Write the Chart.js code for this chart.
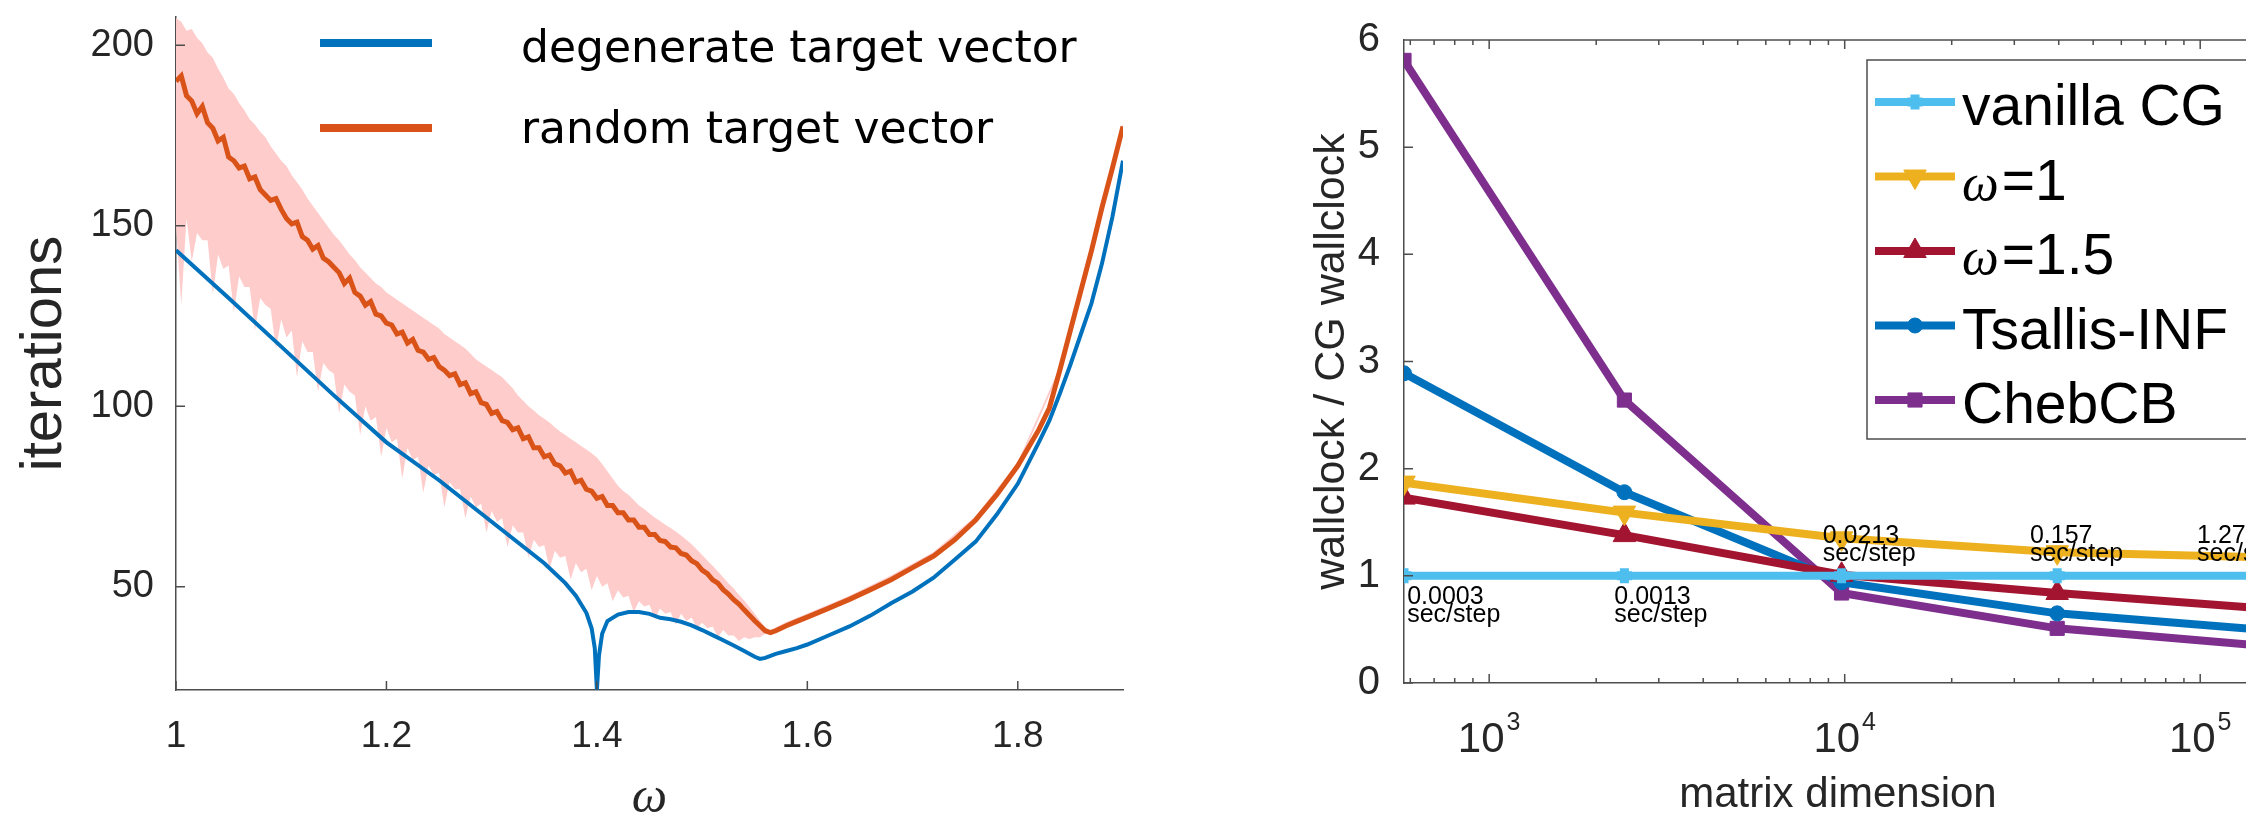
<!DOCTYPE html>
<html>
<head>
<meta charset="utf-8">
<script src="https://cdn.jsdelivr.net/npm/chart.js@4.4.1/dist/chart.umd.min.js"></script>
<style>
  html, body { margin: 0; padding: 0; background: #fff; overflow: hidden; width: 2246px; height: 825px; }
  canvas { position: absolute; top: 0; }
  #sorChart { left: 0; }
  #timeChart { left: 1180px; }
</style>
</head>
<body>
<canvas id="sorChart" width="1160" height="825"></canvas>
<canvas id="timeChart" width="1130" height="825"></canvas>
<script>
// ---------- left panel: iterations vs omega ----------
const sweepOmega = [
  1.000, 1.005, 1.010, 1.015, 1.020, 1.025, 1.030, 1.035, 1.040, 1.045,
  1.050, 1.055, 1.060, 1.065, 1.070, 1.075, 1.080, 1.085, 1.090, 1.095,
  1.100, 1.105, 1.110, 1.115, 1.120, 1.125, 1.130, 1.135, 1.140, 1.145,
  1.150, 1.155, 1.160, 1.165, 1.170, 1.175, 1.180, 1.185, 1.190, 1.195,
  1.200, 1.205, 1.210, 1.215, 1.220, 1.225, 1.230, 1.235, 1.240, 1.245,
  1.250, 1.255, 1.260, 1.265, 1.270, 1.275, 1.280, 1.285, 1.290, 1.295,
  1.300, 1.305, 1.310, 1.315, 1.320, 1.325, 1.330, 1.335, 1.340, 1.345,
  1.350, 1.355, 1.360, 1.365, 1.370, 1.375, 1.380, 1.385, 1.390, 1.395,
  1.400, 1.405, 1.410, 1.415, 1.420, 1.425, 1.430, 1.435, 1.440, 1.445,
  1.450, 1.455, 1.460, 1.465, 1.470, 1.475, 1.480, 1.485, 1.490, 1.495,
  1.500, 1.505, 1.510, 1.515, 1.520, 1.525, 1.530, 1.535, 1.540, 1.545,
  1.550, 1.555, 1.560
];
const bandOmega = sweepOmega.concat([1.565, 1.58, 1.60, 1.64, 1.68, 1.72, 1.76, 1.80, 1.84, 1.88, 1.90]);
const bandHigh = [
  207.5, 206.5, 204, 204.5, 202, 200.5, 198, 196.5, 193.5, 191,
  188, 186.5, 184, 182, 179.5, 178, 176, 174.5, 172, 170,
  168, 166.5, 164, 162, 160, 157.5, 155.5, 153.5, 151.5, 149.5,
  147.5, 146, 144, 142, 140.5, 138.5, 137, 135.5, 134, 133,
  131.5, 130.5, 129.5, 128.5, 127.5, 126.5, 125.5, 124.5, 123.5, 122.5,
  121.5, 120, 119, 118, 117, 116, 114.5, 113, 112, 111,
  110, 109, 108, 106.5, 105, 103, 101.5, 100, 98.8, 97.5,
  96.5, 95.5, 94.2, 93, 92, 91, 90, 89, 88, 87,
  85.8, 84, 82, 80, 78, 76.5, 75.5, 74, 72.5, 71.5,
  70.3, 69.2, 68.2, 67.2, 66.3, 65.3, 64.2, 63, 61.8, 60.3,
  58.8, 57.3, 55.8, 54.2, 52.6, 51, 49.5, 47.8, 46.2, 44.4,
  42.5, 40.6, 38.8,
  38.0, 40.2, 42.6, 47.5, 53.2, 59.6, 69.6, 84.5, 111, 156, 178.2
];
const bandLow = [
  150, 128, 152, 140, 148, 146, 146, 131, 142, 138,
  139, 126, 136, 133, 133, 121, 130, 128, 127, 116,
  124, 119, 121, 108, 118, 115, 115, 104, 112, 110,
  109, 98, 106, 104, 103, 92, 100, 96, 97, 86,
  94, 90, 91, 80, 88.5, 85, 86, 76, 83.5, 81,
  81.5, 72, 79, 77, 77, 69, 75, 72, 73, 65,
  71, 68, 69, 61, 67, 65, 65, 58, 63, 61,
  61.5, 55, 60, 58, 58.5, 52, 56.5, 54, 55, 49,
  53, 50, 51, 46, 49, 47, 47.5, 43, 46, 44.5,
  45, 41, 44, 42.5, 43, 39.5, 42.5, 40.5, 41.5, 38.5,
  40, 38.5, 39, 36, 38, 36.5, 36.5, 35, 36, 35.5,
  36, 36, 37,
  36.8, 38.8, 41.2, 46.2, 51.8, 58.2, 68.2, 83.2, 109.6, 154.6, 177.2
];
const randOmega = sweepOmega.concat([
  1.565, 1.57, 1.58, 1.59, 1.60, 1.62, 1.64, 1.66, 1.68, 1.70, 1.72, 1.74,
  1.76, 1.78, 1.80, 1.82, 1.83, 1.84, 1.85, 1.86, 1.87, 1.88, 1.89, 1.90
]);
const randIter = [
  190, 191.5, 186, 184.5, 181, 183, 178.5, 177, 173.5, 174.5,
  169, 168, 166, 166.5, 163, 163.5, 160, 158.5, 157, 157.5,
  154.5, 152, 150.5, 151, 147, 146, 143.5, 144.5, 141, 140,
  138.5, 137, 134, 135.5, 131.5, 130.5, 128, 129, 125.5, 125,
  123, 122.5, 120, 120.5, 117.5, 118.5, 115.5, 115, 113, 113.5,
  111, 110, 108.5, 109, 106, 106.5, 103.5, 104, 101, 100.5,
  98, 98.5, 96, 95.5, 93.5, 94, 91, 91.5, 88.5, 88.5,
  86, 86.5, 84, 83.5, 81.5, 82, 79, 79.5, 77, 76.5,
  74.5, 75, 72.5, 72.5, 70.5, 70.5, 68.5, 68.5, 66.5, 66.5,
  64.5, 64.5, 62.8, 62.5, 61, 60.8, 59.2, 58.8, 57.2, 56.4,
  54.6, 53.6, 51.9, 51, 49.2, 48, 46.4, 45.2, 43.6, 42.1,
  40.6, 39.2, 37.8,
  37.3, 37.8, 39.2, 40.4, 41.6, 44, 46.5, 49.2, 52, 55.3, 58.5, 63,
  68.5, 75.5, 83.5, 93.5, 99.5, 110, 121, 132, 143, 155, 166, 177.5
];
const degOmega = [
  1.00, 1.05, 1.10, 1.15, 1.20, 1.25, 1.30, 1.35,
  1.37, 1.38, 1.39, 1.395, 1.398, 1.400, 1.402, 1.405, 1.41,
  1.42, 1.43, 1.44, 1.45, 1.46, 1.47, 1.48, 1.49, 1.50, 1.51, 1.52, 1.53, 1.54, 1.55,
  1.555, 1.56, 1.57, 1.58, 1.59, 1.60,
  1.62, 1.64, 1.66, 1.68, 1.70, 1.72, 1.74, 1.76, 1.78, 1.80,
  1.82, 1.83, 1.84, 1.85, 1.86, 1.87, 1.88, 1.89, 1.90
];
const degIter = [
  143.2, 130, 116.5, 103, 90, 79.5, 68, 56.5,
  51, 47.5, 42.8, 38.5, 33, 21.4, 31, 37, 40.5,
  42.3, 43, 43, 42.5, 41.4, 41, 40.3, 39.3, 38, 36.6, 35.2, 33.7, 32.2, 30.6,
  30, 30.3, 31.4, 32.2, 33, 34,
  36.5, 39, 42, 45.5, 48.7, 52.5, 57.5, 62.5, 70, 78.5,
  90, 96, 103.5, 111.5, 120, 128.5, 139.5, 152.5, 168
];
const omegaTicks = [1, 1.2, 1.4, 1.6, 1.8];
const iterTicks = [50, 100, 150, 200];

// ---------- right panel: wallclock ratio vs matrix dimension ----------
const matrixDims = [576, 2401, 9801, 39601, 159201];
const vanillaRatio = [1, 1, 1, 1, 1];
const omega1Ratio = [1.87, 1.59, 1.35, 1.22, 1.17];
const omega15Ratio = [1.73, 1.38, 1.01, 0.84, 0.69];
const tsallisRatio = [2.89, 1.78, 0.94, 0.65, 0.49];
const chebRatio = [5.81, 2.64, 0.84, 0.51, 0.34];
const stepText = ["0.0003", "0.0013", "0.0213", "0.157", "1.27"];
const stepNoteX = [588, 2249, 8670, 33200, 98000];
const stepNoteY = [0.74, 0.74, 1.31, 1.31, 1.31];
const dimTicks = [600, 700, 800, 900, 1000, 2000, 3000, 4000, 5000, 6000, 7000, 8000, 9000,
  10000, 20000, 30000, 40000, 50000, 60000, 70000, 80000, 90000, 100000];
const dimMajor = [1000, 10000, 100000];
const ratioTicks = [0, 1, 2, 3, 4, 5, 6];

Chart.defaults.font.family = "'Liberation Sans', Arial, sans-serif";
Chart.defaults.animation = false;
Chart.defaults.plugins.legend.display = false;
Chart.defaults.plugins.tooltip.enabled = false;

const pts = (xs, ys) => xs.map((x, i) => ({ x, y: ys[i] }));
const axisGray = '#4d4d4d';
const textGray = '#262626';

// inward MATLAB-style tick marks (and optional top box edge)
const tickMarks = {
  id: 'tickMarks',
  afterDatasetsDraw(chart, args, o) {
    const { ctx, chartArea: a, scales: { x, y } } = chart;
    ctx.save();
    ctx.strokeStyle = o.color;
    ctx.lineWidth = o.width;
    ctx.beginPath();
    x.ticks.forEach(t => {
      const px = x.getPixelForValue(t.value);
      const len = t.major === false ? o.minor : o.major;
      ctx.moveTo(px, a.bottom);
      ctx.lineTo(px, a.bottom - len);
      if (o.top) {
        ctx.moveTo(px, a.top);
        ctx.lineTo(px, a.top + len);
      }
    });
    y.ticks.forEach(t => {
      const py = y.getPixelForValue(t.value);
      ctx.moveTo(a.left, py);
      ctx.lineTo(a.left + o.major, py);
    });
    if (o.top) {
      ctx.moveTo(a.left, a.top);
      ctx.lineTo(a.right, a.top);
    }
    ctx.stroke();
    ctx.restore();
  }
};

// plain legend of the left panel (no box)
const lineLegend = {
  id: 'lineLegend',
  afterDraw(chart, args, o) {
    const ctx = chart.ctx;
    ctx.save();
    o.order.forEach((di, i) => {
      const ds = chart.data.datasets[di];
      const ly = o.lineY[i];
      ctx.strokeStyle = ds.borderColor;
      ctx.lineWidth = o.lineWidth;
      ctx.beginPath();
      ctx.moveTo(o.x0, ly);
      ctx.lineTo(o.x1, ly);
      ctx.stroke();
      ctx.fillStyle = '#000';
      ctx.font = o.font;
      ctx.textAlign = 'left';
      ctx.textBaseline = 'alphabetic';
      ctx.fillText(ds.label, o.textX, o.baseY[i]);
    });
    ctx.restore();
  }
};

// boxed legend of the right panel
const boxLegend = {
  id: 'boxLegend',
  afterDraw(chart, args, o) {
    const ctx = chart.ctx;
    ctx.save();
    ctx.fillStyle = '#fff';
    ctx.fillRect(o.x, o.y, o.w, o.h);
    ctx.strokeStyle = axisGray;
    ctx.lineWidth = 1.5;
    ctx.strokeRect(o.x, o.y, o.w, o.h);
    chart.data.datasets.forEach((ds, i) => {
      const cy = o.lineY + i * o.step;
      ctx.strokeStyle = ds.borderColor;
      ctx.lineWidth = ds.borderWidth;
      ctx.beginPath();
      ctx.moveTo(o.x0, cy);
      ctx.lineTo(o.x1, cy);
      ctx.stroke();
      ctx.fillStyle = ds.backgroundColor;
      ctx.strokeStyle = ds.borderColor;
      ctx.lineWidth = ds.pointBorderWidth;
      Chart.helpers.drawPoint(ctx, {
        pointStyle: ds.pointStyle, rotation: ds.pointRotation || 0,
        radius: ds.pointRadius, borderWidth: ds.pointBorderWidth
      }, (o.x0 + o.x1) / 2, cy);
      const by = o.baseY + i * o.step;
      let tx = o.textX;
      let label = ds.label;
      ctx.fillStyle = '#000';
      ctx.textAlign = 'left';
      ctx.textBaseline = 'alphabetic';
      if (label.startsWith('ω')) {
        ctx.font = o.greekFont;
        ctx.fillText('ω', tx, by);
        tx += ctx.measureText('ω').width + 3;
        label = label.slice(1);
      }
      ctx.font = o.font;
      ctx.fillText(label, tx, by);
    });
    ctx.restore();
  }
};

// "sec/step" notes of the right panel
const stepNotes = {
  id: 'stepNotes',
  afterDatasetsDraw(chart, args, o) {
    const { ctx, scales: { x, y } } = chart;
    ctx.save();
    ctx.font = o.font;
    ctx.fillStyle = '#000';
    ctx.textAlign = 'left';
    ctx.textBaseline = 'alphabetic';
    stepText.forEach((txt, i) => {
      const px = x.getPixelForValue(stepNoteX[i]);
      const py = y.getPixelForValue(stepNoteY[i]);
      ctx.fillText(txt, px, py);
      ctx.fillText('sec/step', px, py + o.lineGap);
    });
    ctx.restore();
  }
};

// 10^k tick labels of the log axis
const powerLabels = {
  id: 'powerLabels',
  afterDraw(chart, args, o) {
    const { ctx, chartArea: a, scales: { x } } = chart;
    ctx.save();
    ctx.fillStyle = textGray;
    ctx.textAlign = 'left';
    ctx.textBaseline = 'alphabetic';
    x.ticks.filter(t => t.major).forEach(t => {
      const px = x.getPixelForValue(t.value);
      const exp = String(Math.round(Math.log10(t.value)));
      ctx.font = o.baseFont;
      const wb = ctx.measureText('10').width;
      ctx.font = o.expFont;
      const we = ctx.measureText(exp).width;
      const x0 = px - (wb + we + 2) / 2;
      ctx.font = o.baseFont;
      ctx.fillText('10', x0, a.bottom + o.baseOffset);
      ctx.font = o.expFont;
      ctx.fillText(exp, x0 + wb + 2, a.bottom + o.expOffset);
    });
    ctx.restore();
  }
};

new Chart(document.getElementById('sorChart'), {
  type: 'line',
  data: {
    datasets: [
      { label: 'random target vector', data: pts(randOmega, randIter),
        borderColor: '#D95319', borderWidth: 5, pointRadius: 0, order: 1 },
      { label: 'degenerate target vector', data: pts(degOmega, degIter),
        borderColor: '#0072BD', borderWidth: 4, pointRadius: 0, order: 2 },
      { label: 'band high', data: pts(bandOmega, bandHigh), borderWidth: 0, pointRadius: 0,
        fill: '+1', backgroundColor: 'rgb(255,204,204)', borderColor: 'rgba(0,0,0,0)', order: 3 },
      { label: 'band low', data: pts(bandOmega, bandLow), borderWidth: 0, pointRadius: 0,
        borderColor: 'rgba(0,0,0,0)', order: 4 }
    ]
  },
  options: {
    responsive: false,
    layout: { autoPadding: false, padding: { left: 0, top: 17, right: 37, bottom: 0 } },
    scales: {
      x: {
        type: 'linear', min: 1, max: 1.9,
        afterBuildTicks: s => { s.ticks = omegaTicks.map(v => ({ value: v })); },
        afterFit: s => { s.height = 135; s.paddingLeft = 0; s.paddingRight = 0; },
        grid: { display: false },
        border: { display: true, color: axisGray, width: 1.5 },
        ticks: { font: { size: 37 }, color: textGray, padding: 17, maxRotation: 0, autoSkip: false,
          callback: v => String(Math.round(v * 10) / 10) },
        title: { display: true, text: 'ω', color: textGray, padding: { top: 0, bottom: 1 },
          font: { family: "'Liberation Serif', serif", style: 'italic', size: 50, lineHeight: 1 } }
      },
      y: {
        type: 'linear', min: 21.4, max: 207.8,
        afterBuildTicks: s => { s.ticks = iterTicks.map(v => ({ value: v })); },
        afterFit: s => { s.width = 176; s.paddingTop = 0; s.paddingBottom = 0; },
        grid: { display: false },
        border: { display: true, color: axisGray, width: 1.5 },
        ticks: { font: { size: 38 }, color: textGray, padding: 14 },
        title: { display: true, text: 'iterations', color: textGray, padding: { top: 16, bottom: 0 },
          font: { size: 58, lineHeight: 1 } }
      }
    },
    plugins: {
      filler: { propagate: false },
      tickMarks: { color: axisGray, width: 1.5, major: 9, minor: 5, top: false },
      lineLegend: { order: [1, 0], x0: 320, x1: 432, lineY: [43, 128], baseY: [62, 143], textX: 521,
        lineWidth: 8, font: "44px 'DejaVu Sans'" }
    }
  },
  plugins: [tickMarks, lineLegend]
});

new Chart(document.getElementById('timeChart'), {
  type: 'line',
  data: {
    datasets: [
      { label: 'vanilla CG', data: pts(matrixDims, vanillaRatio), borderColor: '#4DBEEE', backgroundColor: '#4DBEEE',
        borderWidth: 8, pointStyle: 'cross', pointRadius: 7.5, pointBorderWidth: 9 },
      { label: 'ω=1', data: pts(matrixDims, omega1Ratio), borderColor: '#EDB120', backgroundColor: '#EDB120',
        borderWidth: 8, pointStyle: 'triangle', pointRotation: 180, pointRadius: 13, pointBorderWidth: 1 },
      { label: 'ω=1.5', data: pts(matrixDims, omega15Ratio), borderColor: '#A2142F', backgroundColor: '#A2142F',
        borderWidth: 8, pointStyle: 'triangle', pointRadius: 13, pointBorderWidth: 1 },
      { label: 'Tsallis-INF', data: pts(matrixDims, tsallisRatio), borderColor: '#0072BD', backgroundColor: '#0072BD',
        borderWidth: 8, pointStyle: 'circle', pointRadius: 7.5, pointBorderWidth: 1 },
      { label: 'ChebCB', data: pts(matrixDims, chebRatio), borderColor: '#7E2F8E', backgroundColor: '#7E2F8E',
        borderWidth: 8, pointStyle: 'rect', pointRadius: 10, pointBorderWidth: 1 }
    ]
  },
  options: {
    responsive: false,
    datasets: { line: { borderJoinStyle: 'round', tension: 0 } },
    layout: { autoPadding: false, padding: { left: 0, top: 40, right: 38, bottom: 0 } },
    scales: {
      x: {
        type: 'logarithmic', min: 576, max: 159201,
        afterBuildTicks: s => { s.ticks = dimTicks.map(v => ({ value: v, major: dimMajor.includes(v) })); },
        afterFit: s => { s.height = 142; s.paddingLeft = 0; s.paddingRight = 0; },
        grid: { display: false },
        border: { display: true, color: axisGray, width: 1.5 },
        ticks: { display: false },
        title: { display: true, text: 'matrix dimension', color: textGray, padding: { top: 0, bottom: 9 },
          font: { size: 42, lineHeight: 1 } }
      },
      y: {
        type: 'linear', min: 0, max: 6,
        afterBuildTicks: s => { s.ticks = ratioTicks.map(v => ({ value: v })); },
        afterFit: s => { s.width = 224; s.paddingTop = 0; s.paddingBottom = 0; },
        grid: { display: false },
        border: { display: true, color: axisGray, width: 1.5 },
        ticks: { font: { size: 40 }, color: textGray, padding: 16 },
        title: { display: true, text: 'wallclock / CG wallclock', color: textGray, padding: { top: 131, bottom: 0 },
          font: { size: 43, lineHeight: 1 } }
      }
    },
    plugins: {
      tickMarks: { color: axisGray, width: 1.5, major: 9, minor: 5, top: true },
      stepNotes: { font: "25px 'Liberation Sans'", lineGap: 18 },
      powerLabels: { baseFont: "42px 'Liberation Sans'", expFont: "25px 'Liberation Sans'", baseOffset: 69, expOffset: 47 },
      boxLegend: { x: 687, y: 60, w: 640, h: 379, x0: 695, x1: 775, lineY: 102, baseY: 125, step: 74.5,
        textX: 782, font: "57px 'Liberation Sans'", greekFont: "italic 52px 'Liberation Serif'" }
    }
  },
  plugins: [tickMarks, stepNotes, powerLabels, boxLegend]
});
</script>
</body>
</html>
